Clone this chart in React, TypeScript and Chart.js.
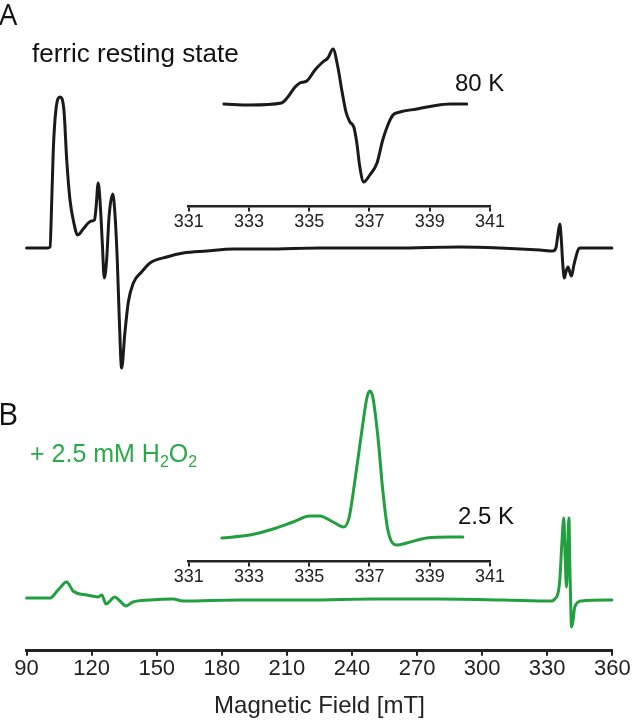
import React, { useEffect, useRef } from "react";
import { Chart, registerables } from "chart.js";
Chart.register(...registerables);

// ---------- data (magnetic field in mT, EPR signal in arbitrary units) ----------
const fieldA = [90, 99.5, 100.8, 101.6, 102.3, 103.5, 105.4, 107.2, 108.5, 110.0, 111.8, 113.5, 116.1, 118.4, 119.8, 121.3, 122.0, 123.0, 124.0, 124.9, 125.8, 126.9, 128.0, 129.7, 130.7, 131.8, 132.7, 133.8, 135.3, 136.9, 139.2, 143.0, 146.9, 154.6, 162.2, 173.0, 185.3, 200.6, 225.2, 260, 290, 308.2, 326.6, 332.6, 334.0, 334.9, 335.8, 336.5, 337.2, 337.9, 338.6, 339.6, 340.4, 341.2, 342.3, 344.2, 345.0, 359.8];
const signalA = [0, 0, 1, 48, 98, 138, 151, 138, 88, 48, 25, 13, 19, 25, 27, 28, 40, 65, 42, 5, -30, -12, 31, 54, 35, -12, -69, -120, -85, -54, -35, -24, -15, -9, -5, -3, -1, -1, 0, 0, 1, 0, -2, -3, 0, 13, 24, 8, -17, -30, -24, -19, -24, -28, -17, -2, 0, 0];

const fieldB = [90, 100.8, 104.5, 108.5, 111.4, 117.8, 122.9, 124.7, 126.6, 130.7, 133.0, 135.8, 139.0, 146.9, 157.5, 162.1, 188.3, 220, 250, 280, 310, 332.1, 333.5, 335.0, 335.8, 336.7, 337.65, 338.3, 338.9, 339.4, 340.0, 340.4, 340.9, 341.2, 341.8, 342.7, 345.8, 359.8];
const signalB = [2, 2, 10, 18, 9, 5, 3, 5, -4, 3, -1, -6, -2, 0, 1, -1, 0, 0, 1, 1, 0, -1, 1, 7, 20, 55, 82, 40, 13, 50, 82, 35, -10, -27, -22, -7, -1, 0];

const insetFieldA = [332.17, 333.03, 334.08, 334.29, 334.53, 334.69, 334.92, 335.19, 335.45, 335.62, 335.79, 335.95, 336.08, 336.22, 336.35, 336.48, 336.58, 336.68, 336.81, 337.01, 337.25, 337.44, 337.61, 337.78, 338.01, 338.57, 339.10, 339.67, 340.23];
const insetSignalA = [0, -1, 1, 7, 17, 21, 23, 34, 42, 46, 55, 37, 14, -8, -18, -23, -39, -63, -78, -71, -59, -36, -21, -11, -8, -5, -2, 0, 0];

const insetFieldB = [332.10, 333.03, 333.80, 334.46, 335.02, 335.35, 335.79, 336.15, 336.32, 336.52, 336.75, 336.92, 337.01, 337.11, 337.28, 337.44, 337.61, 337.91, 338.24, 338.90, 339.67, 340.10];
const insetSignalB = [-1, 2, 8, 15, 21, 21, 15, 10, 19, 57, 107, 140, 146, 140, 100, 47, 7, -8, -6, -1, 0, 0];

const mainTicks = [90, 120, 150, 180, 210, 240, 270, 300, 330, 360];
const insetTicks = [331, 333, 335, 337, 339, 341];

const BLACK = "#1a1a1a";
const GREEN = "#22a040";
const GREEN_TEXT = "#2aa84a";
const FONT = "'Liberation Sans', Arial, sans-serif";

const pts = (xs: number[], ys: number[]) => xs.map((x, i) => ({ x, y: ys[i] }));

const labelsPlugin = {
  id: "panelLabels",
  afterDraw(chart: any) {
    const ctx = chart.ctx;
    ctx.save();
    ctx.textBaseline = "alphabetic";
    ctx.textAlign = "left";
    ctx.fillStyle = "#111";
    ctx.font = "29px 'Open Sans', sans-serif";
    ctx.fillText("A", -1, 25);
    ctx.font = "31px 'Open Sans', sans-serif";
    ctx.fillText("B", -2, 425);
    ctx.font = `26px ${FONT}`;
    ctx.fillText("ferric resting state", 32, 62);
    ctx.font = `24px ${FONT}`;
    ctx.fillText("80 K", 455, 91);
    ctx.fillText("2.5 K", 458, 524);
    // + 2.5 mM H2O2 with subscripts
    ctx.fillStyle = GREEN_TEXT;
    let x = 30;
    const base = 462;
    const parts: [string, boolean][] = [["+ 2.5 mM H", false], ["2", true], ["O", false], ["2", true]];
    for (const [t, sub] of parts) {
      ctx.font = sub ? `16px ${FONT}` : `25px ${FONT}`;
      ctx.fillText(t, x, sub ? base + 5 : base);
      x += ctx.measureText(t).width;
    }
    ctx.restore();
  },
};

function xAxis(min: number, max: number, ticks: number[], fontSize: number, borderWidth: number, title?: any) {
  return {
    type: "linear",
    position: "bottom",
    min,
    max,
    afterBuildTicks: (scale: any) => {
      scale.ticks = ticks.map((v) => ({ value: v }));
    },
    ticks: {
      autoSkip: false,
      maxRotation: 0,
      padding: 0,
      color: "#222",
      font: { size: fontSize, family: FONT },
    },
    grid: {
      display: true,
      drawOnChartArea: false,
      drawTicks: true,
      tickLength: 5,
      color: "#222",
      lineWidth: 2,
    },
    border: { display: true, color: "#222", width: borderWidth },
    title: title || { display: false },
  };
}

const lineDs = (data: any, color: string, yAxisID: string) => ({
  data,
  borderColor: color,
  borderWidth: 3,
  pointRadius: 0,
  cubicInterpolationMode: "monotone",
  borderJoinStyle: "round",
  borderCapStyle: "round",
  fill: false,
  yAxisID,
  clip: false,
});

function useChart(ref: React.RefObject<HTMLCanvasElement>, make: () => any) {
  useEffect(() => {
    if (!ref.current) return;
    const chart = new Chart(ref.current, make());
    return () => chart.destroy();
  }, []);
}

const baseOpts = {
  responsive: false,
  animation: false,
  plugins: { legend: { display: false }, tooltip: { enabled: false } },
  events: [],
};

export default function App() {
  const mainRef = useRef<HTMLCanvasElement>(null);
  const insetARef = useRef<HTMLCanvasElement>(null);
  const insetBRef = useRef<HTMLCanvasElement>(null);

  useChart(mainRef, () => ({
    type: "line",
    data: {
      datasets: [lineDs(pts(fieldA, signalA), BLACK, "yA"), lineDs(pts(fieldB, signalB), GREEN, "yB")],
    },
    options: {
      ...baseOpts,
      layout: { padding: { left: 26.6, right: 20.7, top: 0, bottom: 0 } },
      scales: {
        x: xAxis(90, 360, mainTicks, 22, 3, {
          display: true,
          text: "Magnetic Field [mT]",
          color: "#222",
          font: { size: 24, family: FONT },
          padding: { top: 10, bottom: 2 },
        }),
        yA: { type: "linear", display: false, min: -402.8, max: 248 },
        yB: { type: "linear", display: false, min: -50.8, max: 600 },
      },
    },
    plugins: [labelsPlugin],
  }));

  useChart(insetARef, () => ({
    type: "line",
    data: { datasets: [lineDs(pts(insetFieldA, insetSignalA), BLACK, "y")] },
    options: {
      ...baseOpts,
      layout: { padding: { left: 188.7, right: 143, top: 0, bottom: 0 } },
      scales: {
        x: xAxis(331, 341, insetTicks, 18, 2.5),
        y: { type: "linear", display: false, min: -102.4, max: 104 },
      },
    },
  }));

  useChart(insetBRef, () => ({
    type: "line",
    data: { datasets: [lineDs(pts(insetFieldB, insetSignalB), GREEN, "y")] },
    options: {
      ...baseOpts,
      layout: { padding: { left: 188.7, right: 143, top: 0, bottom: 0 } },
      scales: {
        x: xAxis(331, 341, insetTicks, 18, 2.5),
        y: { type: "linear", display: false, min: -24.4, max: 537 },
      },
    },
  }));

  const abs = (h: number): React.CSSProperties => ({ position: "absolute", left: 0, top: 0, width: 633, height: h });

  return (
    <div style={{ position: "fixed", left: 0, top: 0, width: 633, height: 723, background: "#fff", overflow: "hidden" }}>
      <canvas ref={mainRef} width={633} height={723} style={abs(723)} />
      <canvas ref={insetARef} width={633} height={233} style={abs(233)} />
      <canvas ref={insetBRef} width={633} height={588} style={abs(588)} />
    </div>
  );
}
